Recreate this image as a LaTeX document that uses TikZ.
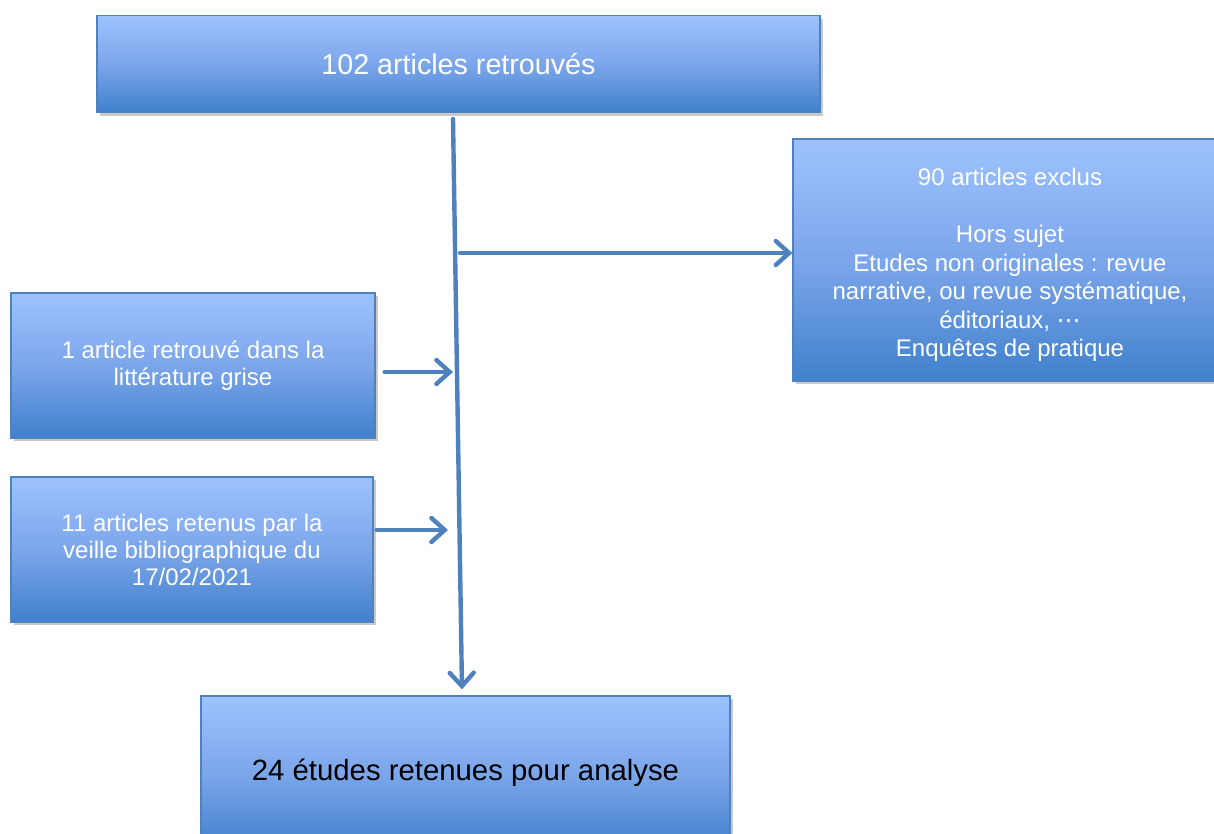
\documentclass[tikz,border=0pt]{standalone}
\usepackage{fontspec}
\setmainfont{Liberation Sans}
\newfontfamily\symfont{DejaVu Sans}
\usetikzlibrary{arrows.meta,shadows,calc}
\definecolor{boxtop}{RGB}{158,194,255}
\definecolor{boxmid}{RGB}{124,166,234}
\definecolor{boxbot}{RGB}{64,128,204}
\definecolor{linkblue}{RGB}{79,129,189}
\begin{document}
\begin{tikzpicture}[x=0.75pt,y=-0.75pt,
  box/.style={draw=linkblue, line width=0.9pt, top color=boxtop, bottom color=boxbot,
    middle color=boxmid, align=center, inner sep=0pt, text=white,
    drop shadow={opacity=0.3, shadow xshift=2pt, shadow yshift=-2.5pt, fill=black!70},
    font=\fontsize{18}{21.4}\selectfont},
  boxtext/.style={align=center, inner sep=0pt, text=white,
    font=\fontsize{18}{21.4}\selectfont},
  link/.style={draw=linkblue, line width=3.3pt, line cap=round,
    -{Straight Barb[length=10pt,width=18pt,line cap=round]}}]
\useasboundingbox (0,0) rectangle (1214,834);
\clip (0,0) rectangle (1214,834);

% boxes
\node[box, minimum width=542.25pt, minimum height=72.75pt,
      font=\fontsize{21.5}{25}\selectfont] (top) at (458.5,64) {102 articles retrouvés};
\node[box, minimum width=317.25pt, minimum height=181.5pt] (right) at (1004.5,260) {};
\node[boxtext] (rightlabel) at ($(right.center)+(5.5,5)$)
  {90 articles exclus\\[21.4pt]Hors sujet\\Etudes non originales : revue\\
   narrative, ou revue systématique,\\éditoriaux, {\symfont ⋯}\\Enquêtes de pratique};
\node[box, minimum width=273pt, minimum height=108.75pt,
      font=\fontsize{18}{20.3}\selectfont] (left1) at (193,365.5)
  {1 article retrouvé dans la\\littérature grise};
\node[box, minimum width=271.5pt, minimum height=108.75pt,
      font=\fontsize{18}{20.3}\selectfont] (left2) at (192,549.5)
  {11 articles retenus par la\\veille bibliographique du\\17/02/2021};
\node[box, minimum width=396.75pt, minimum height=115.5pt, text=black,
      font=\fontsize{22}{26}\selectfont] (bottom) at (465.5,773)
  {24 études retenues pour analyse};

% connectors
\coordinate (split) at (460,253);
\coordinate (join1) at (453,372);
\coordinate (join2) at (448,530);
\draw[link] ($(top.south)+(-5.5,6)$) -- ($(bottom.north)+(-3.5,-6)$);
\draw[link] (split) -- (split -| right.west);
\draw[link] ($(join1 -| left1.east)+(9,0)$) -- (join1);
\draw[link] ($(join2 -| left2.east)+(3,0)$) -- (join2);
\end{tikzpicture}
\end{document}
